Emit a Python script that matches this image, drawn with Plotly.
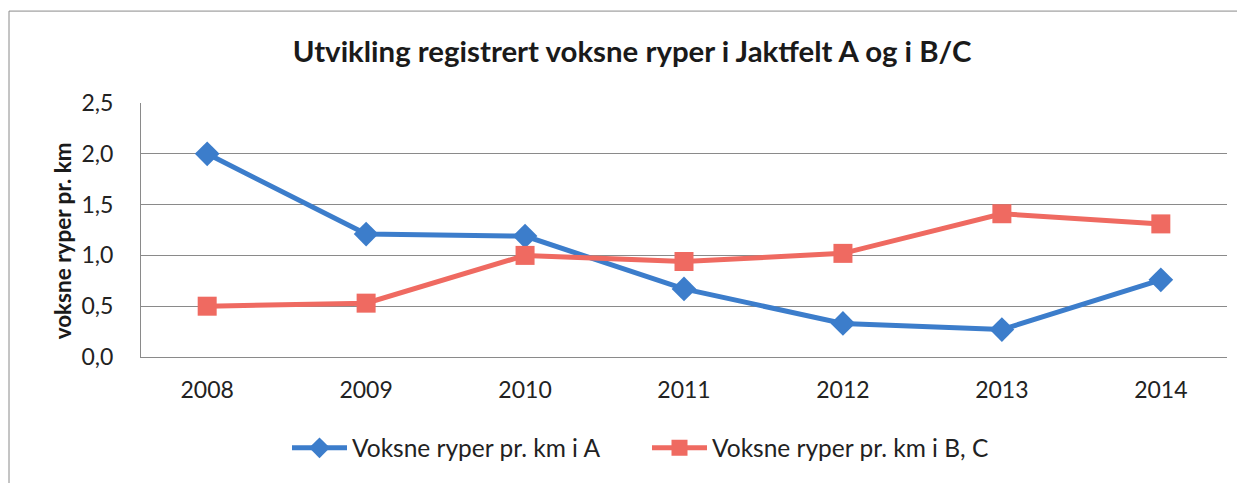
import plotly.graph_objects as go

years = ["2008", "2009", "2010", "2011", "2012", "2013", "2014"]
series_a = [2.0, 1.21, 1.19, 0.67, 0.33, 0.27, 0.76]
series_bc = [0.50, 0.53, 1.00, 0.94, 1.02, 1.41, 1.31]
name_a = "Voksne ryper pr. km i A"
name_bc = "Voksne ryper pr. km i B, C"
title = "Utvikling registrert voksne ryper i Jaktfelt A og i B/C"
y_title = "voksne ryper pr. km"

blue = "#3C7DCB"
red = "#EF6A61"
font = "Lato"

fig = go.Figure()
fig.add_trace(go.Scatter(
    x=years, y=series_a, name=name_a, mode="lines+markers",
    line=dict(color=blue, width=5),
    marker=dict(symbol="diamond", size=19, color=blue),
))
fig.add_trace(go.Scatter(
    x=years, y=series_bc, name=name_bc, mode="lines+markers",
    line=dict(color=red, width=5),
    marker=dict(symbol="square", size=19, color=red),
))

# page has an 8px body offset; work in figure coordinates
OFF = 8
W, H = 1245 - OFF, 483 - OFF
L = 141 - OFF
T = 103 - OFF
R = W - (1227 - OFF)
B = H - (360 - OFF)
pw, ph = W - L - R, H - T - B

def px_x(sx):
    return (sx - 141) / pw

def px_y(sy):
    return (360 - sy) / ph

fig.update_layout(
    width=W, height=H,
    margin=dict(l=L, r=R, t=T, b=B),
    paper_bgcolor="white", plot_bgcolor="white",
    separators=", ",
    font=dict(family=font, size=23, color="#222222"),
    title=dict(text="<b>" + title + "</b>", x=(632 - OFF) / W, xref="container", xanchor="center",
               y=1 - (52 - OFF) / H, yref="container", yanchor="middle",
               font=dict(family=font, size=29.4, color="#1a1a1a")),
    showlegend=True,
    legend=dict(orientation="h", x=px_x(647), xanchor="center", y=px_y(452), yanchor="middle",
                font=dict(family=font, size=24.5, color="#222222"), itemwidth=55,
                entrywidth=290, entrywidthmode="pixels", tracegroupgap=0),
    xaxis=dict(type="category", showgrid=False, showline=True, linecolor="#8a8a8a", linewidth=1,
               ticks="", ticklabelstandoff=12, tickfont=dict(size=23)),
    yaxis=dict(range=[0, 2.5], dtick=0.5, tickformat=".1f", showgrid=True, gridcolor="#8a8a8a",
               gridwidth=1, showline=True, linecolor="#8a8a8a", linewidth=1, zeroline=False,
               ticks="", ticklabelstandoff=22, tickfont=dict(size=23)),
    annotations=[dict(text="<b>" + y_title + "</b>", textangle=-90, xref="paper", yref="paper",
                      x=px_x(62), y=px_y(243), xanchor="center", yanchor="middle", showarrow=False,
                      font=dict(family=font, size=22.5, color="#1a1a1a"))],
    shapes=[dict(type="rect", xref="paper", yref="paper",
                 x0=px_x(9), x1=px_x(1241), y0=px_y(520), y1=px_y(10),
                 line=dict(color="#8a8a8a", width=1), layer="below")],
)

fig.write_html("out.html")
